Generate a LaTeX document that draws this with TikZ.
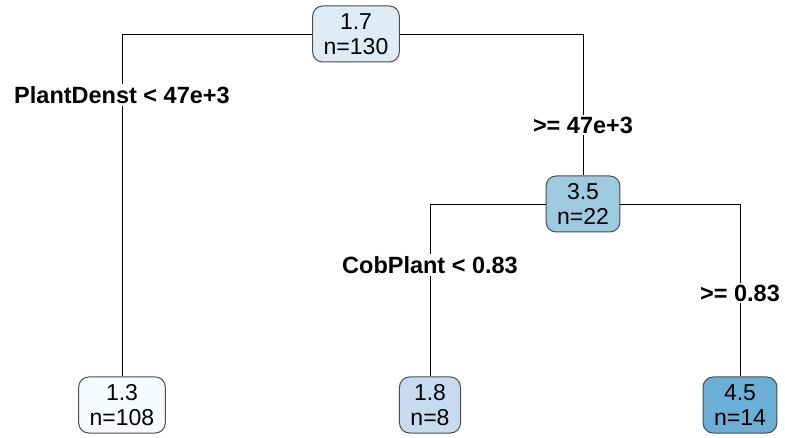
\documentclass[tikz,border=0pt]{standalone}
\usepackage{fontspec}
\setmainfont{Liberation Sans}
\begin{document}
\begin{tikzpicture}[x=1pt,y=-1pt,
  leaf/.style={draw=black!70,line width=1pt,rounded corners=10pt,inner xsep=11pt,inner ysep=3pt,
    minimum height=56pt,align=center,font=\fontsize{23}{25}\selectfont},
  split/.style={fill=white,inner sep=2pt,font=\fontsize{23.5}{26}\selectfont\bfseries}]
\useasboundingbox (0,0) rectangle (785,438);

\definecolor{bA}{HTML}{DEEBF7}
\definecolor{bB}{HTML}{9ECAE1}
\definecolor{bC}{HTML}{F7FBFF}
\definecolor{bD}{HTML}{C6DBEF}
\definecolor{bE}{HTML}{6BAED6}

% tree nodes
\node[leaf,fill=bA] (root) at (356,34) {1.7\\n=130};
\node[leaf,fill=bB] (mid) at (583,204) {3.5\\n=22};
\node[leaf,fill=bC] (l1) at (122,405) {1.3\\n=108};
\node[leaf,fill=bD] (l2) at (430,405) {1.8\\n=8};
\node[leaf,fill=bE] (l3) at (740,405) {4.5\\n=14};

% branches
\draw (root.west) -| (l1.north);
\draw (root.east) -| (mid.north);
\draw (mid.west) -| (l2.north);
\draw (mid.east) -| (l3.north);

% split labels
\node[split] (s1) at (122,95) {PlantDenst < 47e+3};
\node[split] (s2) at (583,125) {>= 47e+3};
\node[split] (s3) at (430,265) {CobPlant < 0.83};
\node[split] (s4) at (740,293) {>= 0.83};
\end{tikzpicture}
\end{document}
